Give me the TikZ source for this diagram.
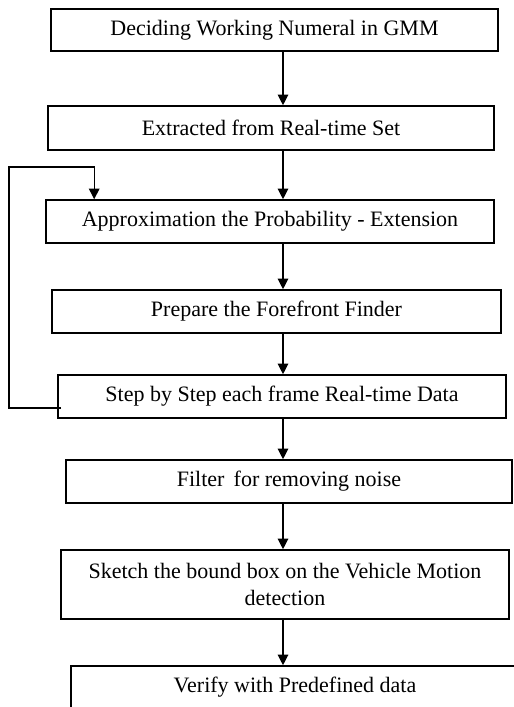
\documentclass[tikz,border=0pt]{standalone}
\usepackage{fontspec}
\setmainfont{Liberation Serif}
\usepackage{tikz}
\usetikzlibrary{shapes,arrows.meta,positioning}
\tikzstyle{block} = [rectangle, draw, line width=1.2pt, inner sep=0pt, align=center, font=\fontsize{16.5}{20}\selectfont]
\tikzstyle{line} = [draw, line width=0.9pt, -{Triangle[width=8pt,length=8pt]}]

\begin{document}
\begin{tikzpicture}[x=0.75pt, y=-0.75pt]
			\clip (0,0) rectangle (514,707);
			\useasboundingbox (0,0) rectangle (514,707);
			\node [block, minimum width=335.25pt, minimum height=31.5pt] (b1) at (274.5, 30) {Deciding Working Numeral in GMM};
			\node [block, minimum width=334.5pt, minimum height=33pt] (b2) at (271, 128) {Extracted from Real-time Set};
			\node [block, minimum width=336pt, minimum height=32.25pt] (b3) at (270, 221.5) {Approximation the Probability - Extension};
			\node [block, minimum width=336.75pt, minimum height=32.25pt] (b4) at (276.5, 311.5) {Prepare the Forefront Finder};
			\node [block, minimum width=336pt, minimum height=32.25pt] (b5) at (282, 396.5) {Step by Step each frame Real-time Data};
			\node [block, minimum width=334.5pt, minimum height=32.25pt] (b6) at (289, 481.5) {Filter\, for removing noise};
			\node [block, minimum width=336pt, minimum height=51.75pt] (b7) at (285, 584.5) {Sketch the bound box on the Vehicle Motion\\detection};
			\node [block, minimum width=336pt, minimum height=32.25pt] (b8) at (295, 687.5) {Verify with Predefined data};
			\coordinate (ax) at (283, 0);
			\coordinate (loop) at (9, 167);

			\path [line] (b1.south -| ax) -- (b2.north -| ax);
			\path [line] (b2.south -| ax) -- (b3.north -| ax);
			\path [line] (b3.south -| ax) -- (b4.north -| ax);
			\path [line] (b4.south -| ax) -- (b5.north -| ax);
			\path [line] (b5.south -| ax) -- (b6.north -| ax);
			\path [line] (b6.south -| ax) -- (b7.north -| ax);
			\path [line] (b7.south -| ax) -- (b8.north -| ax);
			\path [line] ([shift={(4,11.5)}]b5.west) -| (loop) -| ([shift={(49,0)}]b3.north west);
		\end{tikzpicture}
\end{document}
